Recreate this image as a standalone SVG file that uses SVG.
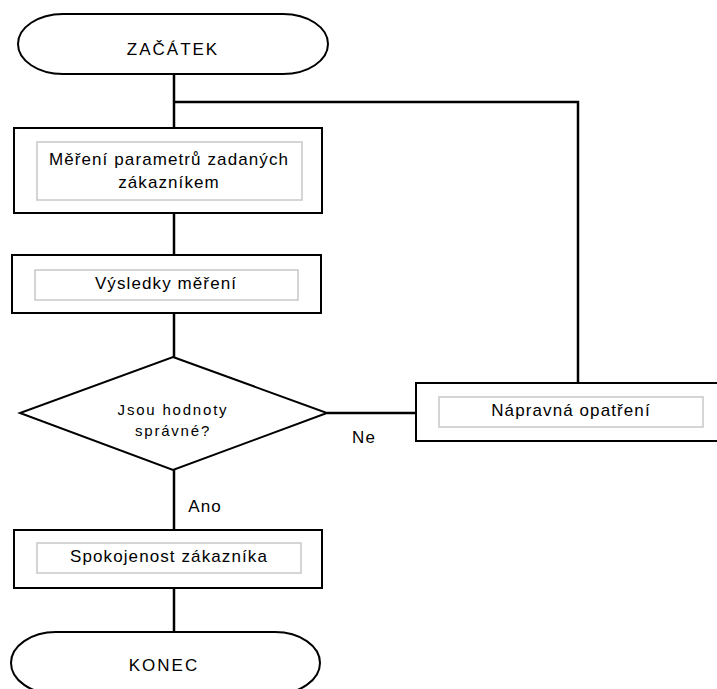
<svg xmlns="http://www.w3.org/2000/svg" width="717" height="689" viewBox="0 0 717 689">
<style>
.s{fill:#fff;stroke:#000;stroke-width:2}
.in{fill:none;stroke:#c8c8c8;stroke-width:1.5}
.c{fill:none;stroke:#000;stroke-width:2.5}
text{font-family:"Liberation Sans",Arial,sans-serif;font-size:17px;letter-spacing:1.1px;fill:#000;text-anchor:middle}
.sm{font-size:15px;letter-spacing:1.8px}
.t{letter-spacing:2px}
</style>
<rect width="717" height="689" fill="#fff"/>
<g id="connectors">
<path class="c" d="M174 74V128M174 102H578V383M174 213V255M174 313V357M327 413H416M174 470V530M174 588V632"/>
<text x="364" y="443">Ne</text>
<text x="205" y="512">Ano</text>
</g>
<g id="start">
<rect class="s" x="18" y="14" width="310" height="60" rx="45" ry="30"/>
<text class="t" x="173" y="55">ZAČÁTEK</text>
</g>
<g id="mereni">
<rect class="s" x="14" y="128" width="308" height="85"/>
<rect class="in" x="37" y="142" width="265" height="58"/>
<text x="169" y="165">Měření parametrů zadaných</text>
<text x="169" y="188">zákazníkem</text>
</g>
<g id="vysledky">
<rect class="s" x="12" y="255" width="309" height="58"/>
<rect class="in" x="35" y="270" width="263" height="30"/>
<text x="166" y="289">Výsledky měření</text>
</g>
<g id="decision">
<polygon class="s" points="173,357 327,413 173,470 20,413"/>
<text class="sm" x="173" y="415">Jsou hodnoty</text>
<text class="sm" x="173" y="436">správné?</text>
</g>
<g id="napravna">
<rect class="s" x="416" y="383" width="310" height="58"/>
<rect class="in" x="439" y="397" width="264" height="30"/>
<text x="571" y="416">Nápravná opatření</text>
</g>
<g id="spokojenost">
<rect class="s" x="14" y="530" width="308" height="58"/>
<rect class="in" x="37" y="543" width="264" height="30"/>
<text x="169" y="562">Spokojenost zákazníka</text>
</g>
<g id="end">
<rect class="s" x="11" y="632" width="309" height="62" rx="45" ry="31"/>
<text class="t" x="164" y="671">KONEC</text>
</g>
</svg>
